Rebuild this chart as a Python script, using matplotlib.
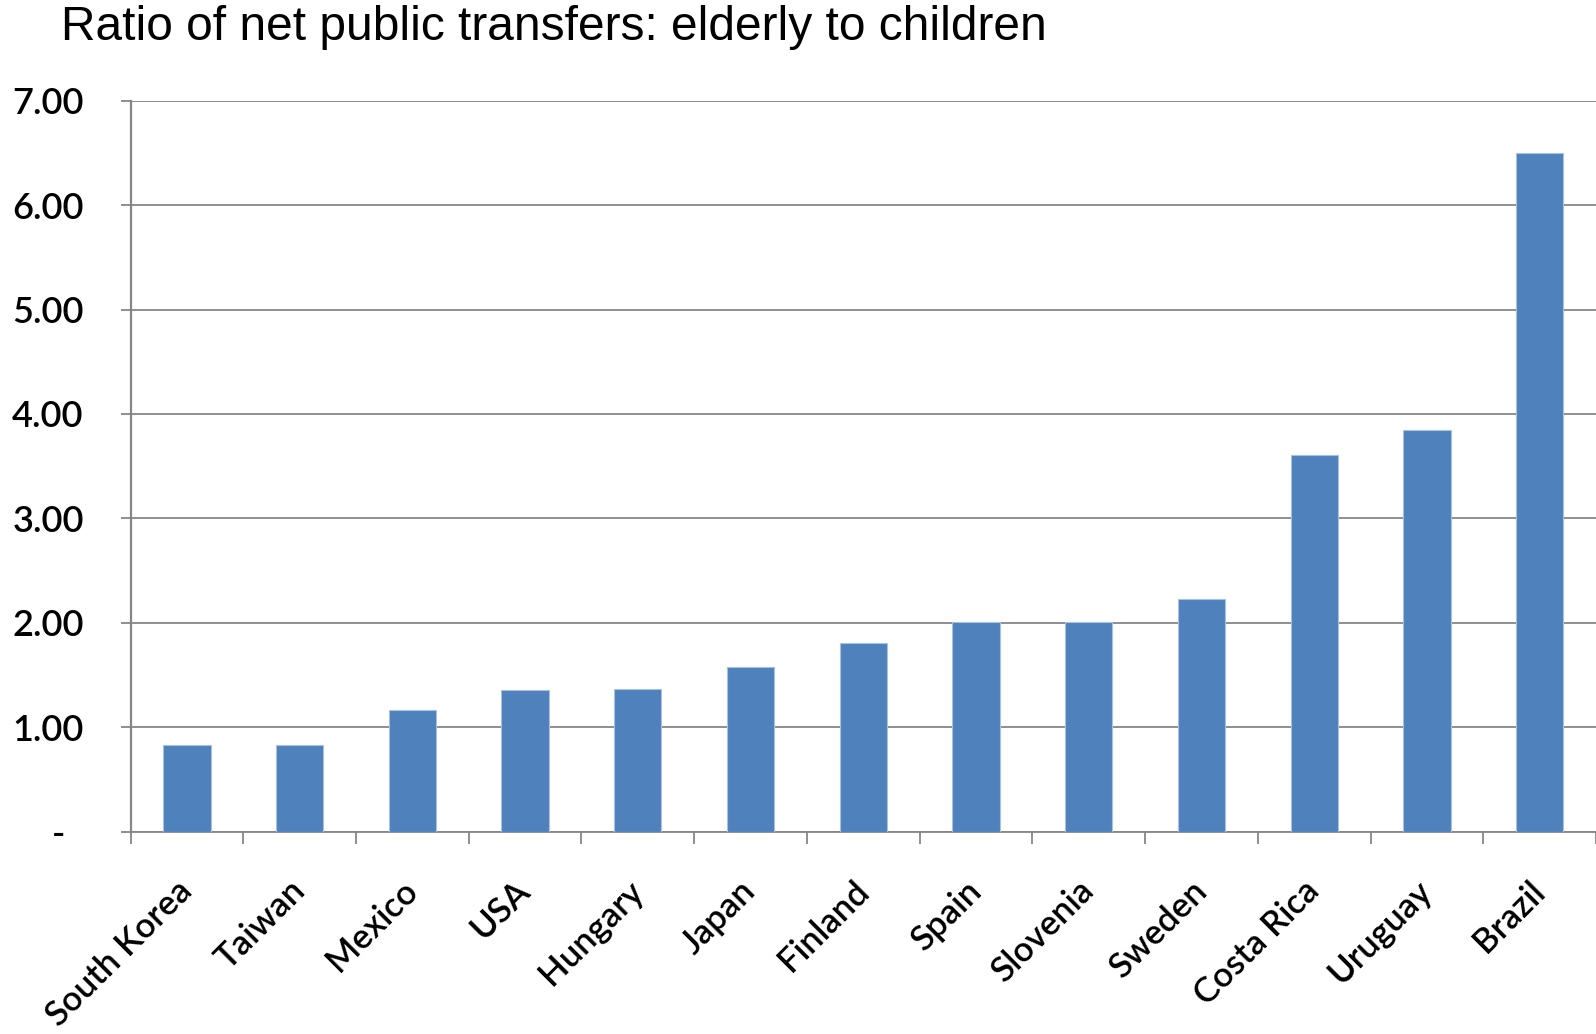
import numpy as np
import matplotlib.pyplot as plt

# Data
countries = ['South Korea', 'Taiwan', 'Mexico', 'USA', 'Hungary', 'Japan', 'Finland',
             'Spain', 'Slovenia', 'Sweden', 'Costa Rica', 'Uruguay', 'Brazil']
ratios = [0.83, 0.83, 1.16, 1.355, 1.365, 1.58, 1.81, 2.01, 2.01, 2.23, 3.61, 3.85, 6.50]
y_ticks = [0, 1, 2, 3, 4, 5, 6, 7]
y_labels = ['-  ', '1.00', '2.00', '3.00', '4.00', '5.00', '6.00', '7.00']

grey = '#868686'
bar_color = '#4f81bd'

fig = plt.figure(figsize=(15.96, 10.34), dpi=100)
ax = fig.add_axes([0.0818, 0.1958, 0.9182, 0.7067])

x = np.arange(len(countries))
ax.bar(x, ratios, width=0.42, color=bar_color, edgecolor='#a9c0de', linewidth=0.8, zorder=3)

ax.set_xlim(-0.5, len(countries) - 0.5)
ax.set_ylim(0, 7)

# y axis
ax.set_yticks(y_ticks)
ax.set_yticklabels(y_labels, fontsize=26, fontfamily='Lato', fontweight='semibold', color='black')
ax.grid(axis='y', color=grey, linewidth=1.3, zorder=0)
ax.tick_params(axis='y', length=7.2, width=1.3, color=grey, pad=26.5)

# x axis: ticks between categories, labels at bar centres
ax.set_xticks(np.arange(-0.5, len(countries)), minor=False)
ax.set_xticklabels([])
ax.set_xticks(x, minor=True)
ax.set_xticklabels(countries, minor=True, rotation=45, ha='right', va='center',
                   rotation_mode='anchor', fontsize=25, fontfamily='Lato',
                   fontweight='semibold', color='black')
ax.tick_params(axis='x', which='major', direction='out', length=8.8, width=1.3, color=grey)
ax.tick_params(axis='x', which='minor', length=0, pad=39)

for side in ['top', 'right']:
    ax.spines[side].set_visible(False)
ax.spines['left'].set_color(grey)
ax.spines['left'].set_linewidth(1.6)
ax.spines['bottom'].set_color(grey)
ax.spines['bottom'].set_linewidth(1.3)

fig.text(0.038, 0.973, 'Ratio of net public transfers: elderly to children',
         fontsize=34.5, fontfamily='Liberation Sans', va='center', ha='left')

fig.savefig('out.png', dpi=100)
